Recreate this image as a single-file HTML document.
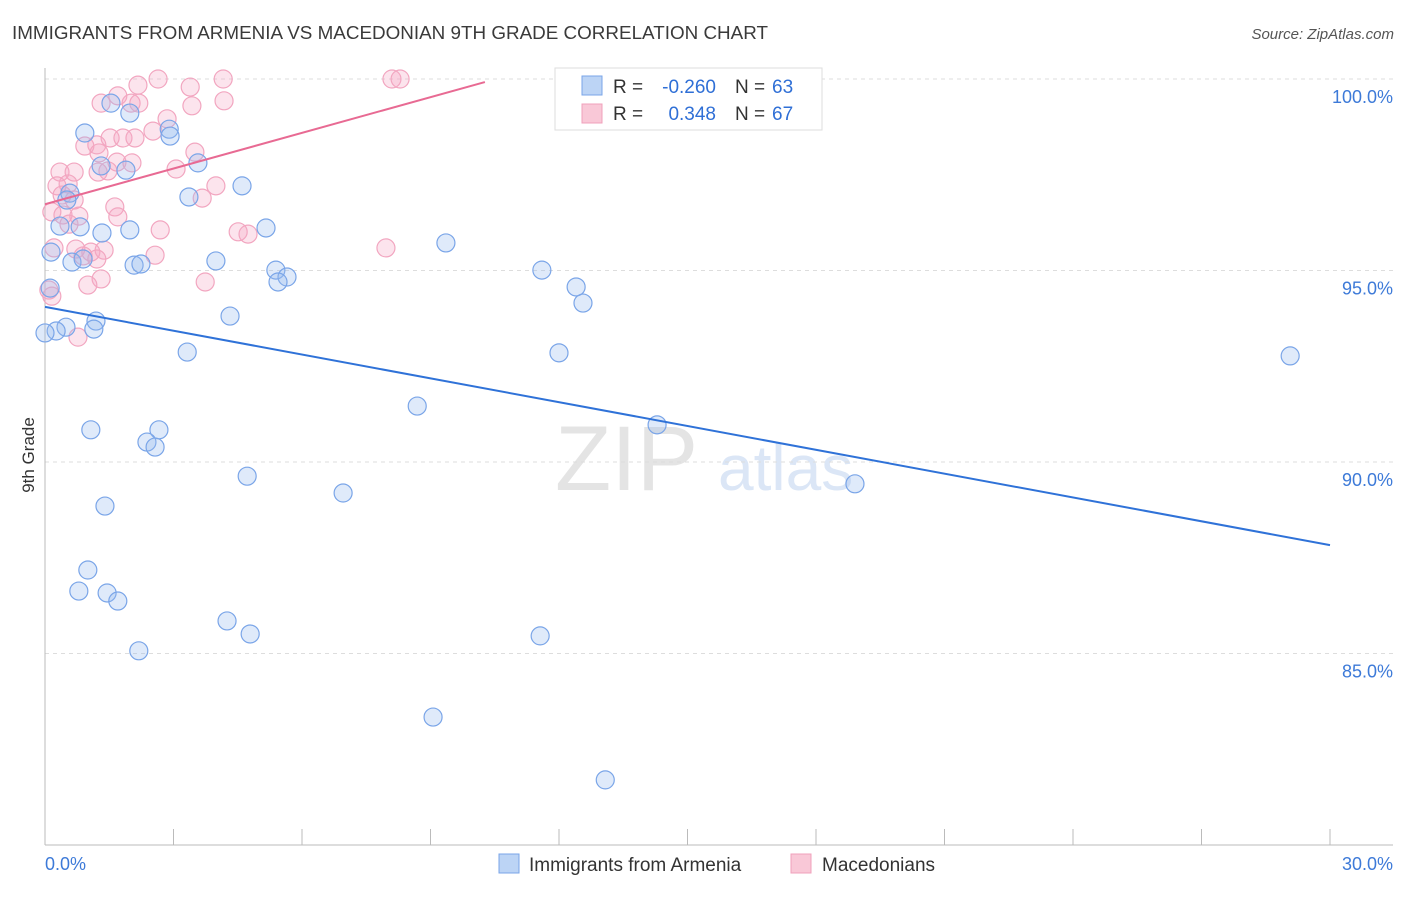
<!DOCTYPE html>
<html><head><meta charset="utf-8">
<style>
body{margin:0;background:#fff;font-family:"Liberation Sans",sans-serif;}
svg text{font-family:"Liberation Sans",sans-serif;}
</style></head>
<body>
<svg id="chart" width="1406" height="892" viewBox="0 0 1406 892">
<text x="12" y="39" font-size="18" fill="#3a3a3a" textLength="756" lengthAdjust="spacingAndGlyphs">IMMIGRANTS FROM ARMENIA VS MACEDONIAN 9TH GRADE CORRELATION CHART</text>
<text x="1394" y="39" font-size="15" fill="#555" text-anchor="end" font-style="italic">Source: ZipAtlas.com</text>
<text x="34" y="455" font-size="17" fill="#333" text-anchor="middle" transform="rotate(-90 34 455)">9th Grade</text>
<text x="555" y="490" font-size="92" fill="#e4e4e4" font-family="Liberation Serif">ZIP</text>
<text x="718" y="490" font-size="64" fill="#dbe6f6">atlas</text>
<g id="grid"></g>
<g id="pts"></g>
<g id="trend"></g>
<g>
<rect x="555" y="68" width="267" height="62" fill="#fff" stroke="#ddd"/>
<rect x="582" y="76" width="20" height="19" fill="#bcd4f5" stroke="#7aa5e8"/>
<rect x="582" y="104" width="20" height="19" fill="#f9c8d7" stroke="#f0a0bb"/>
<text x="613" y="93" font-size="19" fill="#333">R =</text>
<text x="716" y="93" font-size="19" fill="#2f6fd6" text-anchor="end">-0.260</text>
<text x="735" y="93" font-size="19" fill="#333">N =</text>
<text x="772" y="93" font-size="19" fill="#2f6fd6">63</text>
<text x="613" y="120" font-size="19" fill="#333">R =</text>
<text x="716" y="120" font-size="19" fill="#2f6fd6" text-anchor="end">0.348</text>
<text x="735" y="120" font-size="19" fill="#333">N =</text>
<text x="772" y="120" font-size="19" fill="#2f6fd6">67</text>
</g>
<g>
<rect x="499" y="854" width="20" height="19" fill="#bcd4f5" stroke="#7aa5e8"/>
<text x="529" y="871" font-size="19" fill="#333">Immigrants from Armenia</text>
<rect x="791" y="854" width="20" height="19" fill="#f9c8d7" stroke="#f0a0bb"/>
<text x="822" y="871" font-size="19" fill="#333">Macedonians</text>
</g>
</svg>
<script>
const blueX=[0.93,1.54,1.98,2.90,2.92,3.57,1.89,1.31,4.60,3.36,0.58,0.51,0.35,0.82,1.33,1.98,5.16,0.14,0.63,0.89,2.08,2.24,3.99,5.39,5.65,5.44,9.36,11.60,12.40,12.56,0.12,4.32,1.19,1.14,0.49,0.26,0,3.32,12.00,29.07,8.69,14.29,1.07,2.66,2.38,2.57,4.72,6.96,18.91,1.40,1.00,0.79,1.45,1.70,4.25,4.79,11.56,2.19,9.06,13.08];
const blueY=[98.59,99.37,99.11,98.69,98.51,97.81,97.62,97.73,97.21,96.92,97.02,96.84,96.16,96.14,95.98,96.06,96.11,95.48,95.22,95.30,95.14,95.17,95.25,95.01,94.83,94.70,95.72,95.01,94.57,94.15,94.54,93.81,93.68,93.47,93.52,93.42,93.37,92.87,92.85,92.77,91.46,90.97,90.84,90.84,90.52,90.39,89.63,89.19,89.43,88.85,87.18,86.63,86.58,86.37,85.85,85.51,85.46,85.07,83.34,81.70];
const pinkX=[2.64,4.16,8.10,8.29,2.17,3.39,1.70,1.31,2.01,2.19,4.18,3.43,2.85,2.52,1.52,1.82,2.10,1.21,0.93,1.26,3.50,0.35,0.68,1.68,2.03,3.06,1.47,1.24,0.54,0.28,3.99,3.67,0.40,0.68,1.63,0.16,0.42,0.79,1.70,0.56,2.69,4.51,4.74,0.21,0.72,1.38,1.07,7.96,2.57,0.89,1.21,1.31,1.00,3.74,0.09,0.16,0.77];
const pinkY=[100,100,100,100,99.84,99.79,99.56,99.37,99.37,99.37,99.43,99.30,98.96,98.64,98.46,98.46,98.46,98.28,98.25,98.07,98.09,97.57,97.57,97.83,97.81,97.65,97.60,97.57,97.26,97.21,97.21,96.89,96.97,96.84,96.66,96.53,96.45,96.42,96.40,96.21,96.06,96.01,95.95,95.59,95.56,95.53,95.48,95.59,95.40,95.38,95.30,94.78,94.62,94.70,94.49,94.33,93.26];
const blueTrend=[94.05,87.83];
const pinkTrend=[96.73,99.92,10.27];
const yTicks=[100,95,90,85];
const yTickLabels=["100.0%","95.0%","90.0%","85.0%"];
const xTickLabels=["0.0%","30.0%"];
const NS="http://www.w3.org/2000/svg";
const sx=v=>45+v/30*1285;
const sy=v=>79+(100-v)*38.3;
function mk(t,a,p){const e=document.createElementNS(NS,t);for(const k in a)e.setAttribute(k,a[k]);p.appendChild(e);return e;}
const grid=document.getElementById('grid');
yTicks.forEach((t,i)=>{
 const l=mk('line',{x1:45,x2:1393,y1:sy(t),y2:sy(t),stroke:'#ddd','stroke-dasharray':'4,4'},grid);
 
 
 const tx=mk('text',{x:1393,y:sy(t)+24,'font-size':18,fill:'#3d7ad8','text-anchor':'end'},grid);
 tx.textContent=yTickLabels[i];
 
 
});
const ax=mk('line',{x1:45,x2:45,y1:68,y2:845,stroke:'#bbb'},grid);


const bx=mk('line',{x1:45,x2:1393,y1:845,y2:845,stroke:'#bbb'},grid);


for(let i=0;i<=10;i++){
 const l=mk('line',{x1:sx(i*3),x2:sx(i*3),y1:829,y2:845,stroke:'#bbb'},grid);
 
 
}
[[0,'start',45],[30,'end',1393]].forEach((d,i)=>{
 const t=mk('text',{x:d[2],y:870,'font-size':18,fill:'#3d7ad8','text-anchor':d[1]},grid);
 t.textContent=xTickLabels[i];
 
 
});
const pts=document.getElementById('pts');
pinkX.forEach((x,i)=>{
 const c=mk('circle',{cx:sx(x),cy:sy(pinkY[i]),r:9,fill:'rgba(245,165,195,0.3)',stroke:'#f2a6c0','stroke-width':1.2},pts);
 
 
});
blueX.forEach((x,i)=>{
 const c=mk('circle',{cx:sx(x),cy:sy(blueY[i]),r:9,fill:'rgba(150,185,240,0.3)',stroke:'#7aa5e8','stroke-width':1.2},pts);
 
 
});
const tr=document.getElementById('trend');
const bl=mk('line',{x1:sx(0),y1:sy(blueTrend[0]),x2:sx(30),y2:sy(blueTrend[1]),stroke:'#2f72d8','stroke-width':2},tr);


const pl=mk('line',{x1:sx(0),y1:sy(pinkTrend[0]),x2:sx(pinkTrend[2]),y2:sy(pinkTrend[1]),stroke:'#e86a93','stroke-width':2},tr);


</script>
</body></html>
